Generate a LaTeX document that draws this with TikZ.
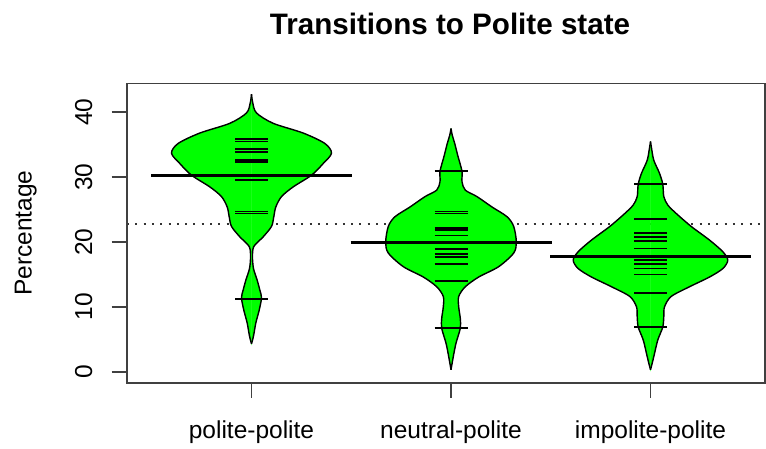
\documentclass[tikz,border=0pt]{standalone}
\usepackage{fontspec}
\setmainfont{Liberation Sans}
\definecolor{beangreen}{RGB}{0,255,0}
\tikzset{
  beanfill/.style={fill=beangreen, draw=beangreen, line width=0.4pt},
  beanedge/.style={draw=black, line width=1.4pt, line join=round},
  beanline/.style={line width=1.8pt},
  medianline/.style={line width=3pt},
  frame/.style={draw=black!75, line width=1.6pt},
  meanline/.style={draw=black!80, line width=2pt, dash pattern=on 2pt off 6.3pt},
  axisfont/.style={font=\fontsize{24.5}{28}\selectfont}
}
\newcommand{\beanshape}[2]{%
  \foreach \s in {1,-1}
    \fill[beanfill, shift={(#1,0)}, xscale=\s] plot[smooth] coordinates {#2} -- cycle;
  \foreach \s in {1,-1}
    \draw[beanedge, shift={(#1,0)}, xscale=\s] plot[smooth] coordinates {#2};
}
\newcommand{\beanlines}[2]{%
  \foreach \v in {#2}
    \draw[beanline] ({#1-16.5},\v) -- ({#1+16.5},\v);
}
\begin{document}
\begin{tikzpicture}[x=1pt, y=1pt]
\useasboundingbox (0,0) rectangle (766,448);
\def \xa{251.5};
\def \xb{451};
\def \xc{650.5};
% title and axis label
\node[font=\fontsize{29.6}{34}\selectfont\bfseries, anchor=base] (title) at (450,413) {Transitions to Polite state};
\node[axisfont, rotate=90, anchor=base] (ylab) at (31.7,214.7) {Percentage};
\begin{scope}[yshift=76.3pt, y=6.485pt]
% overall mean
\draw[meanline] (127,22.7) -- (765,22.7);
% beans
\beanshape{\xa}{(0,4.3) (2,5.5) (4.3,7.5) (7.7,9.5) (10,11.4) (8.3,12.6) (5.7,14.1) (2,15.9) (1,17.7) (2.3,19.3) (11.7,20.8) (20,22.4) (22.3,23.9) (24.3,25.4) (30,27) (41.7,28.5) (60,30.3) (71.7,32.1) (80,33.7) (73.3,35.2) (51.7,36.8) (21.7,38.3) (5,39.9) (1.2,41.5) (0,42.8)}
\beanshape{\xb}{(0,0.3) (2.5,2.5) (5,4.4) (9.3,6.7) (9.3,8.2) (7.7,10) (7.7,11.6) (14.3,13.1) (27.7,14.6) (47.7,16.2) (62.7,18.3) (65.3,20) (62.7,22.4) (56,23.9) (41,25.4) (26,27) (14.3,28) (11,29.3) (11,30.9) (7,33.2) (3.7,35.2) (1.2,36.5) (0,37.5)}
\beanshape{\xc}{(0,0.3) (2,1.5) (4,2.8) (7.3,4.9) (12.3,6.9) (13.3,8.5) (14,10) (20.7,11.6) (39,13.1) (59,14.6) (72.3,15.9) (77.3,17.2) (72.3,18.5) (59,20.3) (40.7,22.4) (25.7,24.4) (17.3,25.7) (13.3,27) (12.3,28.9) (9,30.6) (3.3,32.6) (1,34.5) (0,35.5)}
% observations
\beanlines{\xa}{35.9,35.5,34.3,33.9,32.6,32.3,29.6,24.7,24.4,11.2}
\beanlines{\xb}{30.9,24.7,24.4,22.1,21.9,21.0,20.0,18.9,18.1,17.7,16.6,14.0,6.7}
\beanlines{\xc}{28.9,23.5,21.4,20.8,20.2,19.0,17.7,17.2,16.6,15.9,15.0,12.1,6.9}
% bean averages
\foreach \x/\m in {\xa/30.3, \xb/20.0, \xc/17.7}
  \draw[medianline] ({\x-100.5},\m) -- ({\x+100.5},\m);
% frame
\draw[frame] (127,-1.7) rectangle (765,44.47);
% y axis
\foreach \v in {0,10,...,40}{
  \draw[frame] (111.7,\v) -- (127,\v);
  \node[axisfont, rotate=90, inner sep=0] (yt\v) at (83.7,\v) {\v};}
% x axis
\draw[frame] (\xa,-1.7) -- (\xc,-1.7);
\foreach \x/\l/\n in {\xa/polite-polite/pp, \xb/neutral-polite/np, \xc/impolite-polite/ip}{
  \draw[frame] (\x,-1.7) -- (\x,-4.06);
  \node[axisfont, anchor=base] (\n) at (\x,-10.27) {\l};}
\end{scope}
\end{tikzpicture}
\end{document}
